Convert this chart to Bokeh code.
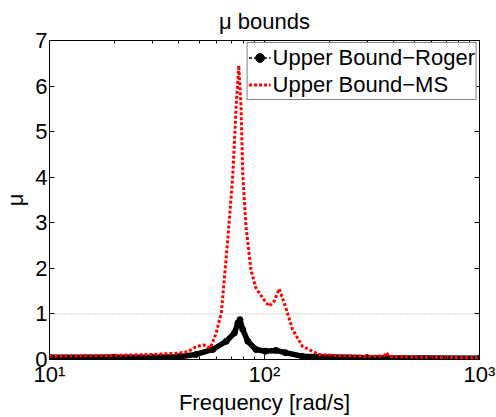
from bokeh.plotting import figure
from bokeh.models import (Range1d, LogAxis, LinearAxis, Span, Legend, LegendItem,
                          FixedTicker)
from bokeh.embed import file_html
from bokeh.resources import INLINE

# ---- data ----
freq_ms = [10, 20, 30, 40, 44, 48, 52, 56, 59.6, 63, 67.5, 71.3, 73.8, 75.9, 77.8,
           79.2, 82, 86.5, 91.2, 98, 105, 111, 117, 125, 135, 150, 179, 212, 300,
           360, 369, 380, 500, 1000]
mu_ms = [0.07, 0.09, 0.11, 0.14, 0.17, 0.28, 0.32, 0.25, 0.58, 1.03, 2.63, 4.09, 5.54,
         6.45, 5.54, 4.09, 2.92, 1.97, 1.57, 1.35, 1.17, 1.28, 1.55, 1.17, 0.66, 0.29,
         0.11, 0.09, 0.07, 0.08, 0.15, 0.07, 0.05, 0.04]

freq_roger = [10, 20, 30, 40, 48, 57.5, 66.4, 72.4, 75.2, 76.9, 79.2, 83.6, 91.2, 101,
              113, 125, 150, 180, 300, 1000]
mu_roger = [0.05, 0.05, 0.05, 0.06, 0.11, 0.22, 0.40, 0.58, 0.80, 0.875, 0.66, 0.40,
            0.22, 0.18, 0.20, 0.15, 0.07, 0.06, 0.04, 0.03]

x_ticks = [10, 100, 1000]
x_tick_labels = ["10\u00b9", "10\u00b2", "10\u00b3"]
y_ticks = [0, 1, 2, 3, 4, 5, 6, 7]
ref_level = 1

FONT = "Liberation Sans"
FS = "22px"

x_minor = [m * 10 ** k for k in (1, 2) for m in range(2, 10)]

p = figure(width=496, height=417, x_axis_type="log",
           x_range=Range1d(10, 1000), y_range=Range1d(0, 7),
           output_backend="svg", toolbar_location=None,
           min_border_left=45, min_border_right=17, min_border_top=40,
           min_border_bottom=57, title="\u03bc bounds")
p.title.text_font = FONT
p.title.text_font_size = FS
p.title.text_font_style = "normal"
p.title.text_color = "black"
p.title.align = "center"
p.title.vertical_align = "top"
p.title.standoff = 10
p.grid.visible = False
p.outline_line_color = "black"
p.outline_line_width = 1
p.background_fill_color = "white"
p.border_fill_color = "white"

xt = FixedTicker(ticks=x_ticks, minor_ticks=x_minor)
yt = FixedTicker(ticks=y_ticks)

ax = p.xaxis[0]
ax.ticker = xt
ax.major_label_overrides = {t: l for t, l in zip(x_ticks, x_tick_labels)}
ax.axis_label = "Frequency [rad/s]"
ay = p.yaxis[0]
ay.ticker = yt
ay.axis_label = "\u03bc"

for a in (ax, ay):
    a.axis_label_text_font = FONT
    a.axis_label_text_font_size = FS
    a.axis_label_text_font_style = "normal"
    a.axis_label_text_color = "black"
    a.major_label_text_font = FONT
    a.major_label_text_font_size = FS
    a.major_label_text_color = "black"
    a.major_tick_in = 5
    a.major_tick_out = 0
    a.minor_tick_in = 3
    a.minor_tick_out = 0
    a.axis_line_color = "black"
    a.major_tick_line_color = "black"
    a.minor_tick_line_color = "black"
    a.major_label_standoff = 2
    a.axis_label_standoff = 0
ay.minor_tick_line_color = None
ay.axis_label_standoff = 4

top = LogAxis(ticker=xt, major_label_text_color=None, major_label_text_font_size="1px",
              major_label_standoff=0,
              major_tick_in=5, major_tick_out=0, minor_tick_in=3, minor_tick_out=0)
right = LinearAxis(ticker=yt, major_label_text_color=None, major_label_text_font_size="1px",
                   major_label_standoff=0,
                   major_tick_in=5, major_tick_out=0, minor_tick_line_color=None)
p.add_layout(top, "above")
p.add_layout(right, "right")

p.add_layout(Span(location=ref_level, dimension="width", line_color="#a0a0a0",
                  line_dash="1 2", line_width=1, level="underlay"))

# black series
p.line(freq_roger, mu_roger, line_color="black", line_width=5.5)
r_bdash = p.line(freq_roger, mu_roger, line_color="black", line_width=1.5,
                 line_dash="3 2")
r_bdot = p.scatter(freq_roger, mu_roger, size=6, color="black")
# red series
r_red = p.line(freq_ms, mu_ms, line_color="#ff0000", line_width=3, line_dash="3 2")

legend = Legend(items=[LegendItem(label="Upper Bound\u2212Roger", renderers=[r_bdash, r_bdot]),
                       LegendItem(label="Upper Bound\u2212MS", renderers=[r_red])],
                location="top_right")
legend.label_text_font = FONT
legend.label_text_font_size = FS
legend.label_text_color = "black"
legend.border_line_color = "black"
legend.border_line_width = 1
legend.background_fill_alpha = 1
legend.margin = 2
legend.padding = 1
legend.spacing = 0
legend.label_height = 27
legend.glyph_height = 27
legend.glyph_width = 22
legend.label_standoff = 2
p.add_layout(legend)

open("out.html", "w").write(file_html(p, INLINE))
